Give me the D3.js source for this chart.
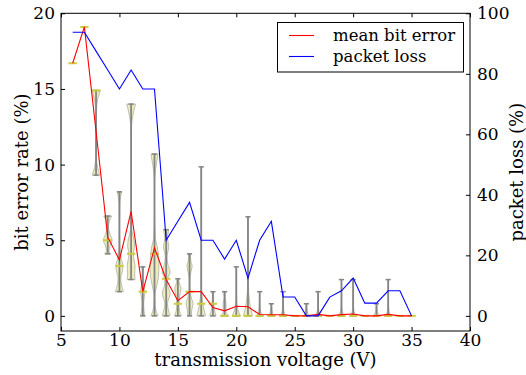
<!DOCTYPE html>
<html lang="en">
<head>
<meta charset="UTF-8">
<title>bit error / packet loss</title>
<script src="https://cdnjs.cloudflare.com/ajax/libs/d3/7.8.5/d3.min.js"></script>
<style>
  body { margin: 0; background: #fff; }
  svg { display: block; }
  text { font-family: "DejaVu Serif", serif; fill: #000; }
</style>
</head>
<body>
<svg id="chart" width="526" height="375"></svg>
<script>
// transmission voltages (V)
const voltages = d3.range(6, 36);
// mean bit error rate (%) per voltage
const meanBitError = [16.7, 19.1, 12.2, 5.2, 3.7, 6.9, 1.6, 4.5, 2.4, 1.0,
  1.6, 1.6, 0.55, 0.33, 0.64, 0.6, 0.09, 0.07, 0.07, 0,
  0, 0.1, 0, 0.08, 0.12, 0, 0, 0.1, 0, 0];
// packet loss (%) per voltage
const packetLoss = [93.75, 93.75, 87.5, 81.25, 75, 81.25, 75, 75, 25, 31.25,
  37.5, 25, 25, 18.75, 25, 12.5, 25, 31.25, 6.25, 6.25,
  0, 0, 6.2, 8.3, 12.5, 4.2, 4.2, 8.3, 8.3, 0];
// per-voltage bit error distribution: extremes and median
const bitErrMin = [16.7, 19.1, 9.3, 4.1, 1.6, 2.4, 0, 0, 0, 0,
  0, 0, 0, 0, 0, 0, 0, 0, 0, 0, 0, 0, 0, 0, 0, 0, 0, 0, 0, 0];
const bitErrMax = [16.7, 19.1, 14.9, 6.6, 8.2, 14.0, 3.24, 10.7, 5.7, 2.45,
  4.1, 9.85, 1.6, 1.6, 3.24, 6.55, 1.6, 0.8, 1.6, 0,
  0.8, 1.6, 0, 2.4, 2.4, 0, 0.8, 2.4, 0, 0];
const bitErrMedian = [16.7, 19.1, 14.9, 5.0, 3.3, 4.1, 1.6, 4.1, 2.45, 0.8,
  1.6, 0.8, 0.8, 0, 0, 0, 0, 0, 0, 0, 0, 0, 0, 0, 0, 0, 0, 0, 0, 0];
// violin outlines: [value, relative half width]
const violinShapes = [
  null, null,
  [[9.3, 0.9], [9.8, 0.35], [10.5, 0.1], [12, 0.05], [13.6, 0.1], [14.3, 0.35], [14.9, 1]],
  [[4.1, 0.7], [4.3, 0.3], [4.6, 0.5], [5.0, 1], [5.4, 0.5], [5.9, 0.15], [6.3, 0.4], [6.6, 0.9]],
  [[1.6, 0.9], [2.0, 0.5], [2.5, 0.3], [3.0, 0.7], [3.3, 0.8], [3.8, 0.4], [4.5, 0.08], [6, 0.03], [7.5, 0.1], [8.2, 0.5]],
  [[2.4, 0.9], [2.8, 0.8], [3.3, 0.9], [3.8, 0.6], [4.1, 0.5], [4.6, 0.8], [5.1, 0.6], [5.7, 0.15], [7, 0.04], [10, 0.03], [12.5, 0.1], [13.4, 0.5], [14.0, 1]],
  [[0, 0.5], [0.3, 0.3], [0.9, 0.2], [1.6, 0.5], [2.2, 0.2], [2.8, 0.1], [3.24, 0.2]],
  [[0, 0.8], [0.3, 0.4], [0.7, 0.15], [1.3, 0.1], [2.0, 0.5], [2.6, 0.9], [3.3, 1], [4.0, 0.9], [4.6, 0.6], [5.2, 0.15], [7, 0.03], [9, 0.04], [10.0, 0.4], [10.7, 0.8]],
  [[0, 0.9], [0.4, 0.5], [0.8, 0.3], [1.5, 0.9], [2.1, 0.3], [2.5, 0.4], [2.9, 0.9], [3.4, 0.4], [3.9, 0.2], [4.6, 0.6], [5.1, 0.3], [5.7, 0.6]],
  [[0, 0.8], [0.3, 0.4], [0.8, 0.25], [1.3, 0.4], [1.8, 0.7], [2.2, 0.3], [2.45, 0.2]],
  [[0, 0.4], [0.4, 0.5], [0.8, 0.8], [1.2, 0.4], [1.6, 0.15], [2.3, 0.05], [2.9, 0.3], [3.3, 0.6], [3.6, 0.3], [4.1, 0.2]],
  [[0, 1], [0.5, 0.55], [1.0, 0.3], [1.6, 0.1], [3, 0.03], [6, 0.02], [9.85, 0.03]],
  [[0, 0.7], [0.3, 0.4], [0.8, 0.2], [1.2, 0.1], [1.6, 0.2]],
  [[0, 0.9], [0.3, 0.3], [0.8, 0.35], [1.2, 0.1], [1.6, 0.15]],
  [[0, 0.9], [0.4, 0.4], [0.9, 0.1], [2, 0.03], [3.24, 0.05]],
  [[0, 1], [0.5, 0.6], [1.2, 0.25], [2, 0.06], [4, 0.02], [6.55, 0.02]],
  [[0, 0.7], [0.3, 0.2], [0.8, 0.05], [1.6, 0.03]],
  [[0, 0.6], [0.3, 0.2], [0.8, 0.05]],
  [[0, 0.7], [0.3, 0.2], [0.8, 0.05], [1.6, 0.03]],
  null,
  [[0, 0.6], [0.3, 0.2], [0.8, 0.05]],
  [[0, 0.7], [0.3, 0.2], [0.8, 0.05], [1.6, 0.03]],
  null,
  [[0, 0.7], [0.3, 0.2], [0.8, 0.05], [2.4, 0.03]],
  [[0, 0.7], [0.3, 0.2], [0.8, 0.05], [2.4, 0.03]],
  null,
  [[0, 0.6], [0.3, 0.2], [0.8, 0.05]],
  [[0, 0.7], [0.3, 0.2], [0.8, 0.05], [2.4, 0.03]],
  null, null
];
const xTicks = [5, 10, 15, 20, 25, 30, 35, 40];
const yTicks = [0, 5, 10, 15, 20];
const y2Ticks = [0, 20, 40, 60, 80, 100];

const plotLeft = 61, plotRight = 470, plotTop = 13.3, plotBottom = 331;
const svg = d3.select("#chart");

const x = d3.scaleLinear().domain([5, 40]).range([plotLeft, plotRight]);
const y = d3.scaleLinear().domain([-1, 20]).range([plotBottom, plotTop]);
const y2 = d3.scaleLinear().domain([-5, 100]).range([plotBottom, plotTop]);

const halfW = 4.4;   // px for a relative width of 1
const capW = 2.6;
const medW = 4.2;

// violin bodies
const area = d3.area()
  .y(d => y(d[0]))
  .curve(d3.curveMonotoneY);

const g = svg.append("g");
voltages.forEach((v, i) => {
  const shape = violinShapes[i];
  if (shape) {
    g.append("path")
      .attr("d", area.x0(d => x(v) - d[1] * halfW).x1(d => x(v) + d[1] * halfW)(shape))
      .attr("fill", "#ececbe")
      .attr("stroke", "#b0b0a0")
      .attr("stroke-width", 0.8);
  }
});

// extrema bars and caps
voltages.forEach((v, i) => {
  if (bitErrMax[i] > bitErrMin[i]) {
    g.append("line")
      .attr("x1", x(v)).attr("x2", x(v))
      .attr("y1", y(bitErrMin[i])).attr("y2", y(bitErrMax[i]))
      .attr("stroke", "#858585").attr("stroke-width", 1.8);
    [bitErrMin[i], bitErrMax[i]].forEach(val => {
      g.append("line")
        .attr("x1", x(v) - capW).attr("x2", x(v) + capW)
        .attr("y1", y(val)).attr("y2", y(val))
        .attr("stroke", "#858585").attr("stroke-width", 1.5);
    });
  }
});

// medians
voltages.forEach((v, i) => {
  g.append("line")
    .attr("x1", x(v) - medW).attr("x2", x(v) + medW)
    .attr("y1", y(bitErrMedian[i])).attr("y2", y(bitErrMedian[i]))
    .attr("stroke", "#cccc40").attr("stroke-width", 2);
});

// mean bit error
svg.append("path")
  .datum(voltages.map((v, i) => [v, meanBitError[i]]))
  .attr("fill", "none")
  .attr("stroke", "#ff0000")
  .attr("stroke-width", 1.1)
  .attr("d", d3.line().x(d => x(d[0])).y(d => y(d[1])));

// packet loss
svg.append("path")
  .datum(voltages.map((v, i) => [v, packetLoss[i]]))
  .attr("fill", "none")
  .attr("stroke", "#0000ff")
  .attr("stroke-width", 1.1)
  .attr("d", d3.line().x(d => x(d[0])).y(d => y2(d[1])));

// frame
svg.append("rect")
  .attr("x", plotLeft).attr("y", plotTop)
  .attr("width", plotRight - plotLeft).attr("height", plotBottom - plotTop)
  .attr("fill", "none").attr("stroke", "#000").attr("stroke-width", 1);

// axes (ticks inward)
const tickFs = 17;
function styleAxis(sel) {
  sel.select(".domain").remove();
  sel.selectAll(".tick line").attr("stroke", "#000");
  sel.selectAll(".tick text").attr("font-size", tickFs);
}
svg.append("g").attr("transform", `translate(0,${plotBottom})`)
  .call(d3.axisBottom(x).tickValues(xTicks).tickSizeInner(-4).tickPadding(3).tickFormat(d3.format("d")))
  .call(styleAxis);
svg.append("g").attr("transform", `translate(0,${plotTop})`)
  .call(d3.axisTop(x).tickValues(xTicks).tickSizeInner(-4).tickFormat(""))
  .call(styleAxis);
svg.append("g").attr("transform", `translate(${plotLeft},0)`)
  .call(d3.axisLeft(y).tickValues(yTicks).tickSizeInner(-4).tickPadding(6).tickFormat(d3.format("d")))
  .call(styleAxis);
svg.append("g").attr("transform", `translate(${plotRight},0)`)
  .call(d3.axisRight(y2).tickValues(y2Ticks).tickSizeInner(-4).tickPadding(7).tickFormat(d3.format("d")))
  .call(styleAxis);

// axis labels
const labelFs = 18;
svg.append("text")
  .attr("x", (plotLeft + plotRight) / 2).attr("y", 366)
  .attr("text-anchor", "middle").attr("font-size", labelFs)
  .text("transmission voltage (V)");
svg.append("text")
  .attr("transform", `translate(28,${(plotTop + plotBottom) / 2}) rotate(-90)`)
  .attr("text-anchor", "middle").attr("font-size", labelFs)
  .text("bit error rate (%)");
svg.append("text")
  .attr("transform", `translate(523,${(plotTop + plotBottom) / 2}) rotate(-90)`)
  .attr("text-anchor", "middle").attr("font-size", labelFs)
  .text("packet loss (%)");

// legend
const legend = svg.append("g");
legend.append("rect")
  .attr("x", 277.5).attr("y", 22.5).attr("width", 186).attr("height", 49.5)
  .attr("fill", "#fff").attr("stroke", "#000").attr("stroke-width", 1);
const entries = [["mean bit error", "#ff0000"], ["packet loss", "#0000ff"]];
entries.forEach(([label, color], i) => {
  const ly = 35.5 + i * 21;
  legend.append("line")
    .attr("x1", 289).attr("x2", 314).attr("y1", ly).attr("y2", ly)
    .attr("stroke", color).attr("stroke-width", 1.1);
  legend.append("text")
    .attr("x", 333).attr("y", ly + 5.8)
    .attr("font-size", 16.5)
    .text(label);
});
</script>
</body>
</html>
